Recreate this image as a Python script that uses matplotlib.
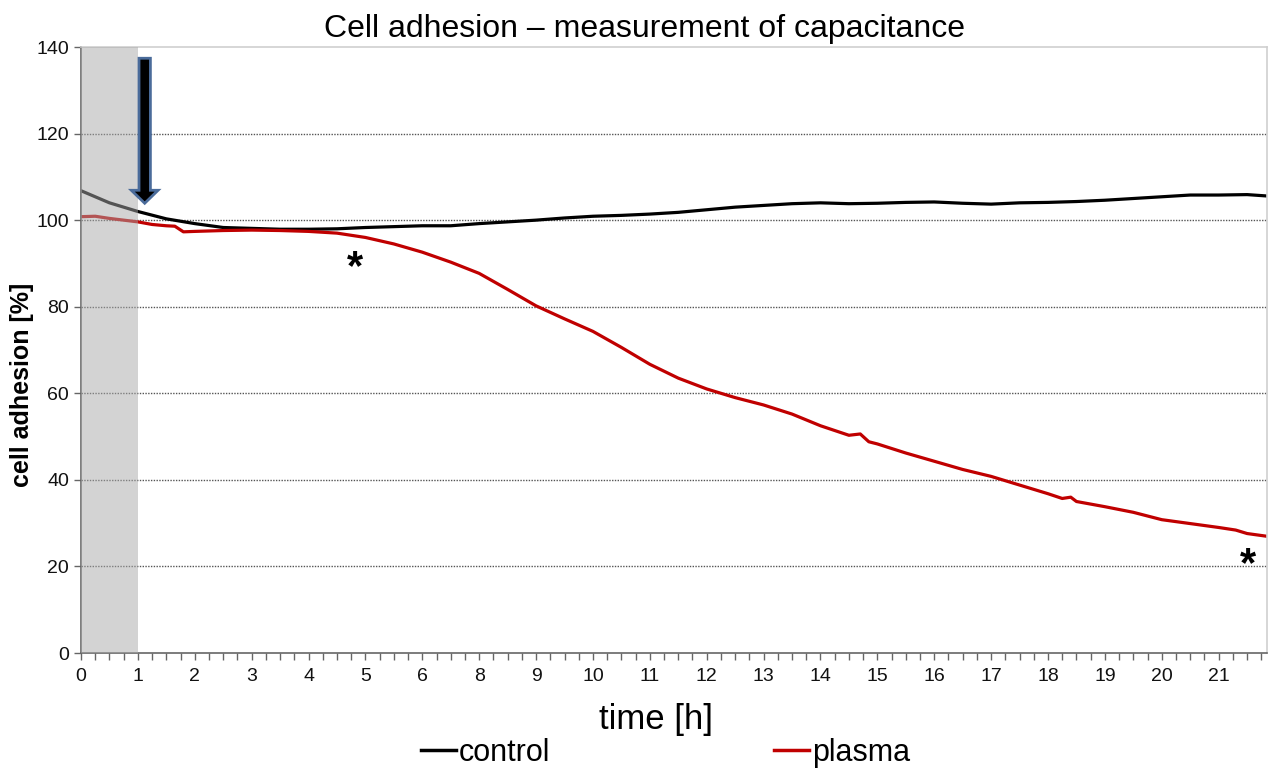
import matplotlib
matplotlib.use("Agg")
import matplotlib.pyplot as plt
from matplotlib.patches import FancyArrow
from matplotlib.lines import Line2D
from matplotlib.ticker import MultipleLocator

plt.rcParams['font.family'] = ['Liberation Sans', 'DejaVu Sans']

# category positions along the time axis and their printed labels
tick_pos = list(range(21))
tick_labels = ["0", "1", "2", "3", "4", "5", "6", "8", "9", "10", "11",
               "12", "13", "14", "15", "16", "17", "18", "19", "20", "21"]

# control series
t_control = [0, 0.5, 1.0, 1.5, 2.0, 2.5, 3.0, 3.5, 4.0, 4.5, 5.0, 5.5, 6.0,
             6.5, 7.0, 7.5, 8.0, 8.5, 9.0, 9.5, 10.0, 10.5, 11.0, 11.5, 12.0,
             12.5, 13.0, 13.5, 14.0, 14.5, 15.0, 15.5, 16.0, 16.5, 17.0, 17.5,
             18.0, 18.5, 19.0, 19.5, 20.0, 20.5, 20.83]
control = [106.8, 104.0, 102.0, 100.3, 99.2, 98.3, 98.1, 97.9, 97.9, 98.0,
           98.3, 98.5, 98.7, 98.7, 99.2, 99.6, 100.0, 100.5, 100.9, 101.1,
           101.4, 101.8, 102.4, 103.0, 103.4, 103.8, 104.0, 103.8, 103.9,
           104.1, 104.2, 103.9, 103.7, 104.0, 104.1, 104.3, 104.6, 105.0,
           105.4, 105.8, 105.8, 105.9, 105.6]

# plasma series
t_plasma = [0, 0.25, 0.5, 0.75, 1.0, 1.25, 1.5, 1.65, 1.8, 2.0, 2.5, 3.0, 3.5,
            4.0, 4.5, 5.0, 5.5, 6.0, 6.5, 7.0, 7.5, 8.0, 8.5, 9.0, 9.5, 10.0,
            10.5, 11.0, 11.5, 12.0, 12.5, 13.0, 13.5, 13.7, 13.85, 14.0, 14.5,
            15.0, 15.5, 16.0, 16.5, 17.0, 17.25, 17.4, 17.5, 18.0, 18.5, 19.0,
            19.5, 20.0, 20.3, 20.5, 20.83]
plasma = [100.8, 100.9, 100.4, 100.0, 99.6, 99.0, 98.7, 98.6, 97.3, 97.4,
          97.6, 97.7, 97.6, 97.4, 97.0, 96.0, 94.5, 92.6, 90.3, 87.7, 84.0,
          80.2, 77.2, 74.3, 70.6, 66.7, 63.5, 61.0, 59.0, 57.3, 55.2, 52.5,
          50.3, 50.6, 48.8, 48.3, 46.2, 44.3, 42.4, 40.8, 38.8, 36.8, 35.7,
          36.0, 35.0, 33.8, 32.5, 30.8, 29.9, 29.0, 28.4, 27.6, 27.0]

y_ticks = [0, 20, 40, 60, 80, 100, 120, 140]

RED = "#c00000"

fig = plt.figure(figsize=(12.7, 7.7), dpi=100)
ax = fig.add_axes([81 / 1270, 117 / 770, 1186 / 1270, 606 / 770])

ax.set_xlim(0, 20.85)
ax.set_ylim(0, 140)

# dotted horizontal grid for the inner ticks
for yv in y_ticks[1:-1]:
    ax.axhline(yv, color="#555555", lw=1.0, ls=(0, (1, 1)), zorder=1)

ax.plot(t_control, control, color="black", lw=2.3, zorder=2, label="control")
ax.plot(t_plasma, plasma, color=RED, lw=2.3, zorder=2, label="plasma")

# baseline period shading
ax.axvspan(0, 1, color="#a8a8a8", alpha=0.5, lw=0, zorder=3)

# treatment arrow
ax.add_patch(FancyArrow(1.12, 137.4, 0, -33.5, width=0.2, head_width=0.47,
                        head_length=3.0, length_includes_head=True,
                        fc="black", ec="#4a6b9a", lw=2.0, zorder=4))

# significance markers
ax.text(4.82, 89.0, "*", fontsize=30, fontweight="bold", ha="center",
        va="center", zorder=5)
ax.text(20.51, 20.4, "*", fontsize=30, fontweight="bold", ha="center",
        va="center", zorder=5)

ax.set_yticks(y_ticks)
ax.set_xticks(tick_pos)
ax.set_xticklabels(tick_labels)
ax.xaxis.set_minor_locator(MultipleLocator(0.25))
ax.tick_params(axis="both", which="both", direction="out", length=5,
               width=1, color="#666666", labelsize=14, labelcolor="#111111")
ax.tick_params(axis="x", which="major", pad=6)

for side in ("left", "bottom"):
    ax.spines[side].set_color("#666666")
    ax.spines[side].set_linewidth(1.2)
for side in ("top", "right"):
    ax.spines[side].set_color("#cfcfcf")
    ax.spines[side].set_linewidth(1.2)

ax.set_title("Cell adhesion \u2013 measurement of capacitance", fontsize=23,
             pad=7, x=0.4755)
ax.set_xlabel("time [h]", fontsize=25)
ax.xaxis.set_label_coords(0.485, -0.083)
ax.set_ylabel("cell adhesion [%]", fontsize=18, fontweight="bold")
ax.yaxis.set_label_coords(-0.040, 0.442)

handles = [Line2D([], [], color="black", lw=2.5),
           Line2D([], [], color=RED, lw=2.5)]
fig.legend(handles, ["control", "plasma"], loc="center",
           bbox_to_anchor=(0.524, 1 - 753 / 770), ncol=2, frameon=False,
           fontsize=22, handlelength=1.15, handletextpad=0.1,
           columnspacing=7.3, borderpad=0, borderaxespad=0)

fig.savefig("out.png", dpi=100)
